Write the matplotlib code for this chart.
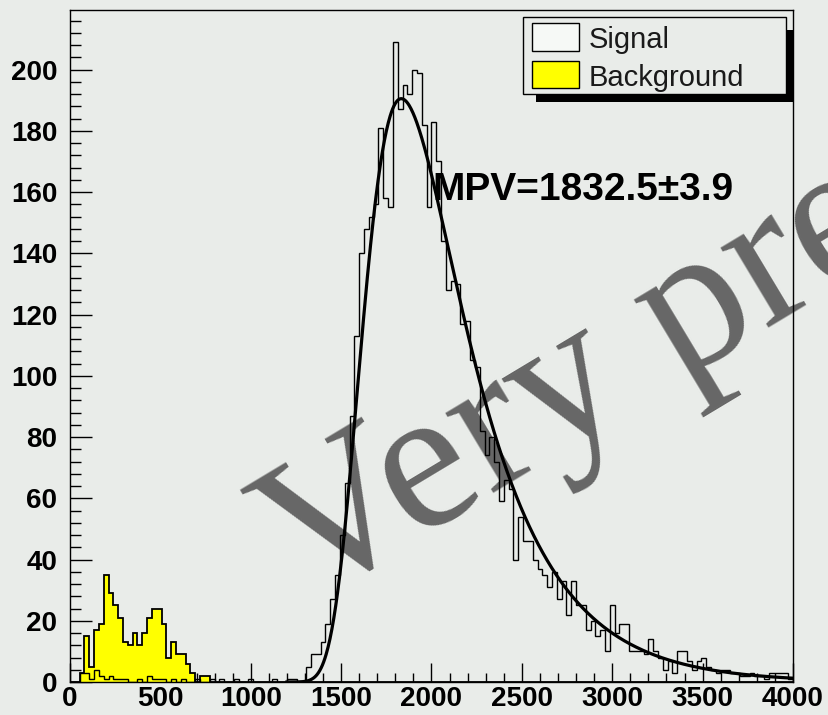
import numpy as np
import matplotlib
matplotlib.use("Agg")
import matplotlib.pyplot as plt
from matplotlib.patches import Rectangle
from matplotlib.ticker import MultipleLocator

# ---- histogram definition -------------------------------------------------
X_MIN, X_MAX, N_BINS = 0.0, 4000.0, 150

signal_counts = [
    0, 0, 3, 3, 1, 4, 2, 1, 2, 1,
    1, 1, 0, 0, 1, 0, 2, 1, 1, 1,
    0, 1, 0, 1, 0, 0, 1, 0, 0, 1,
    0, 1, 0, 0, 1, 0, 0, 1, 0, 0,
    0, 0, 1, 0, 0, 1, 1, 0, 0, 5,
    9, 9, 13, 19, 27, 35, 48, 65, 87, 113,
    140, 148, 152, 156, 181, 158, 155, 209, 187, 195,
    192, 200, 199, 182, 155, 183, 170, 144, 128, 131,
    130, 117, 118, 105, 103, 82, 74, 80, 72, 59,
    66, 63, 40, 54, 46, 46, 40, 37, 35, 31,
    36, 27, 33, 22, 33, 25, 25, 17, 20, 15,
    17, 10, 25, 16, 19, 19, 10, 10, 10, 9,
    14, 10, 8, 4, 7, 3, 10, 10, 7, 4,
    7, 8, 5, 4, 3, 4, 4, 3, 3, 2,
    2, 3, 2, 2, 1, 3, 3, 3, 3, 1,
]

background_counts = [
    0, 0, 3, 15, 5, 17, 19, 35, 29, 25,
    21, 13, 12, 16, 12, 16, 21, 24, 24, 19,
    8, 13, 9, 9, 6, 3, 0, 2, 2, 0,
] + [0] * 120

# fitted peak model (asymmetric Moyal-type shape around the MPV)
MPV, MPV_ERR = 1832.5, 3.9
FIT_PEAK = 190.5
FIT_WIDTH_LOW, FIT_WIDTH_HIGH = 186.0, 196.0
FIT_RANGE = (1200.0, 4000.0)

Y_MAX = 219.45

# ---- style ---------------------------------------------------------------
W, H, DPI = 829, 715, 100
BG = "#e9ece9"
SANS = ["Liberation Sans", "DejaVu Sans"]
SERIF = ["Liberation Serif", "DejaVu Serif"]

fig = plt.figure(figsize=(W / DPI, H / DPI), dpi=DPI)
fig.patch.set_facecolor(BG)


def px_rect(x0, y0, x1, y1):
    """Figure-fraction rectangle from pixel corners (origin top-left)."""
    return (x0 / W, 1 - y1 / H, (x1 - x0) / W, (y1 - y0) / H)


ax = fig.add_axes(px_rect(70, 10, 793, 682))
ax.set_facecolor(BG)

edges = np.linspace(X_MIN, X_MAX, N_BINS + 1)

# background: yellow filled histogram with black outline
ax.stairs(background_counts, edges, fill=True, facecolor="#ffff00",
          edgecolor="none", zorder=2)
ax.stairs(background_counts, edges, color="black", lw=1.3, zorder=3)

# signal: hollow outline
ax.stairs(signal_counts, edges, color="black", lw=1.0, zorder=4)

# fit curve
xf = np.linspace(FIT_RANGE[0], FIT_RANGE[1], 800)
width = np.where(xf < MPV, FIT_WIDTH_LOW, FIT_WIDTH_HIGH)
z = (xf - MPV) / width
yf = FIT_PEAK * np.exp(-0.5 * (z + np.exp(-z) - 1.0))
ax.plot(xf, yf, color="black", lw=2.3, zorder=5)

ax.text(2003, 157.5, f"MPV={MPV}\u00b1{MPV_ERR}", fontsize=28,
        fontweight="bold", family=SANS, va="baseline", ha="left", zorder=6)

# watermark behind the data
ax.text(308 / W, 1 - 606 / H, "Very preliminary", transform=fig.transFigure,
        rotation=31, rotation_mode="anchor", ha="left", va="baseline",
        fontsize=146, family=SERIF, color="#666666", zorder=1, clip_on=False)

# axes
ax.set_xlim(X_MIN, X_MAX)
ax.set_ylim(0, Y_MAX)
ax.xaxis.set_major_locator(MultipleLocator(500))
ax.xaxis.set_minor_locator(MultipleLocator(100))
ax.yaxis.set_major_locator(MultipleLocator(20))
ax.yaxis.set_minor_locator(MultipleLocator(4))
ax.tick_params(axis="both", which="both", direction="in", width=1.0,
               colors="black", top=False, right=False)
ax.tick_params(axis="y", which="major", length=15.8, pad=9)
ax.tick_params(axis="y", which="minor", length=7.9)
ax.tick_params(axis="x", which="major", length=13.5, pad=3)
ax.tick_params(axis="x", which="minor", length=6.8)
for lab in ax.get_xticklabels() + ax.get_yticklabels():
    lab.set_fontsize(20)
    lab.set_fontweight("bold")
    lab.set_family(SANS)
for sp in ax.spines.values():
    sp.set_linewidth(1.0)
    sp.set_color("black")
    sp.set_zorder(7)

# legend with drop shadow
fig.patches.append(Rectangle(px_rect(536, 30, 793, 101.7)[:2],
                             *px_rect(536, 30, 793, 101.7)[2:],
                             transform=fig.transFigure, facecolor="black",
                             edgecolor="none", zorder=8))
fig.patches.append(Rectangle(px_rect(522.7, 16.7, 786, 94)[:2],
                             *px_rect(522.7, 16.7, 786, 94)[2:],
                             transform=fig.transFigure, facecolor=BG,
                             edgecolor="black", lw=1.0, zorder=9))
entries = [("Signal", "#f6f9f6", 22.7, 50.7), ("Background", "#ffff00", 60.7, 88.3)]
for label, color, y0, y1 in entries:
    r = px_rect(531.7, y0, 579, y1)
    fig.patches.append(Rectangle(r[:2], *r[2:], transform=fig.transFigure,
                                 facecolor=color, edgecolor="black", lw=1.0,
                                 zorder=10))
    fig.text(589 / W, 1 - (y0 + y1) / 2 / H, label, fontsize=21,
             family=SANS, color="#1a1a1a", va="center_baseline", ha="left",
             zorder=11)

fig.savefig("out.png", dpi=DPI, facecolor=BG)
